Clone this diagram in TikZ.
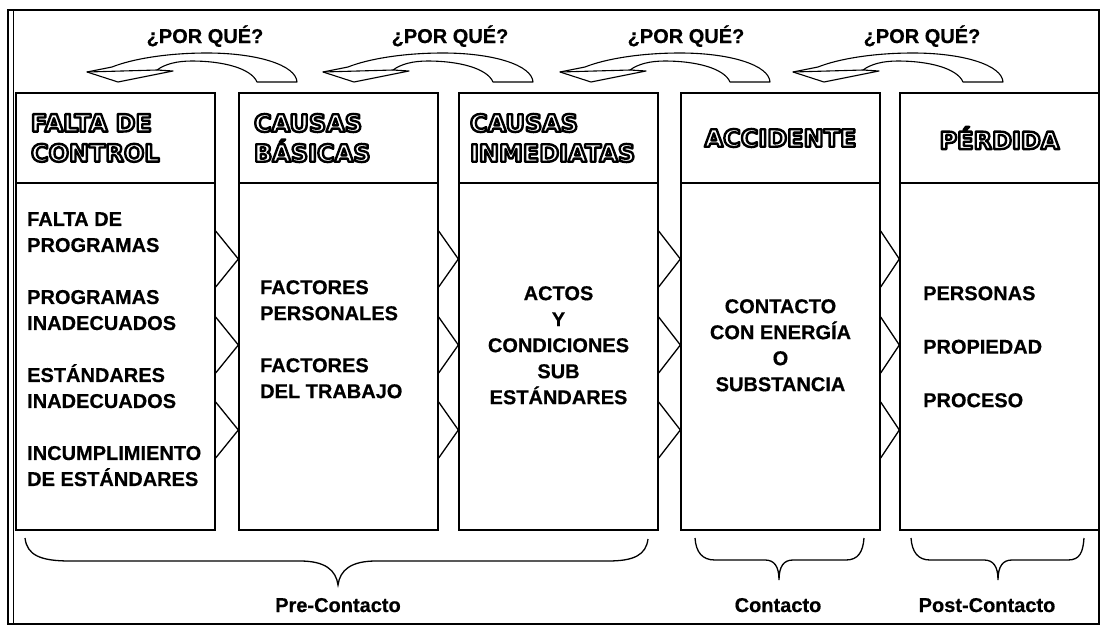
\documentclass[tikz,border=0pt]{standalone}
\usepackage{fontspec}
\setmainfont{Liberation Sans}[BoldFeatures={FakeBold=0.5}]
\newfontfamily\hdrfont{DejaVu Sans}
\usetikzlibrary{calc, positioning}
% white letters with a black rim
\newcommand{\hollow}[1]{{\color{white}\special{pdf:literal direct 2 Tr 2.4 w 0 G 1 j}#1\special{pdf:literal direct 0 Tr}}}
\tikzset{
  box/.style={draw, line width=1.3pt, minimum width=199pt, inner sep=0pt},
  hdr/.style={box, minimum height=90pt, text width=169pt, inner xsep=15pt, font=\hdrfont\bfseries\fontsize{24}{30}\selectfont},
  body/.style={box, minimum height=347pt},
  txt/.style={font=\bfseries\fontsize{20}{26}\selectfont, inner sep=0pt},
  why/.style={font=\bfseries\fontsize{20}{24}\selectfont, inner sep=0pt, anchor=base},
  whyarrow/.pic={
    \draw[fill=white, line width=1.1pt, line join=round] (90,29) .. controls (89,12) and (50,0) .. (0,0) .. controls (-40,0) and (-75,6) .. (-95,14) -- (-120,19) -- (-89,29) -- (-34,18) -- (-50,17) .. controls (-42,11) and (-30,8) .. (-15,8) .. controls (15,8) and (44,15) .. (50,29) -- cycle;
    \draw[line width=1.1pt] (-120,19) -- (-50,17);
  }
}
\begin{document}
\begin{tikzpicture}[x=1pt, y=-1pt]
\useasboundingbox (0,0) rectangle (1106,627);
\fill[white] (0,0) rectangle (1106,627);
% frame
\draw[line width=1.8pt] (8,10) rectangle (1099,624);
\draw[line width=1pt] (13,10) -- (13,624);

% why arrows
\pic at (207,53) {whyarrow};
\pic at (443,53) {whyarrow};
\pic at (680,53) {whyarrow};
\pic at (913,53) {whyarrow};
\node[why] (q1) at (205,43) {¿POR QUÉ?};
\node[why] (q2) at (450,43) {¿POR QUÉ?};
\node[why] (q3) at (686,43) {¿POR QUÉ?};
\node[why] (q4) at (922,43) {¿POR QUÉ?};

% headers
\node[hdr, align=left] (h1) at (115.5,138) {\hollow{FALTA DE}\\\hollow{CONTROL}};
\node[hdr, align=left] (h2) at (338.5,138) {\hollow{CAUSAS}\\\hollow{BÁSICAS}};
\node[hdr, align=left, inner xsep=11pt, text width=177pt] (h3) at (558.5,138) {\hollow{CAUSAS}\\\hollow{INMEDIATAS}};
\node[hdr, align=center] (h4) at (780.5,138) {\hollow{ACCIDENTE}};
\node[hdr, align=center] (h5) at (999.5,138) {\hollow{PÉRDIDA}};

% bodies
\node[body] (b1) at (115.5,356.5) {};
\node[body] (b2) at (338.5,356.5) {};
\node[body] (b3) at (558.5,356.5) {};
\node[body] (b4) at (780.5,356.5) {};
\node[body] (b5) at (999.5,356.5) {};

\node[txt, align=left, anchor=north west] (t1) at (27,212) {FALTA DE\\PROGRAMAS\\[26pt]PROGRAMAS\\INADECUADOS\\[26pt]ESTÁNDARES\\INADECUADOS\\[26pt]INCUMPLIMIENTO\\DE ESTÁNDARES};
\node[txt, align=left, anchor=north west] (t2) at (260,280) {FACTORES\\PERSONALES\\[26pt]FACTORES\\DEL TRABAJO};
\node[txt, align=center, anchor=north] (t3) at (558.5,286) {ACTOS\\Y\\CONDICIONES\\SUB\\ESTÁNDARES};
\node[txt, align=center, anchor=north] (t4) at (780.5,299) {CONTACTO\\CON ENERGÍA\\O\\SUBSTANCIA};
\node[txt, align=left, anchor=north west] (t5) at (923,286) {PERSONAS\\[27.5pt]PROPIEDAD\\[27.5pt]PROCESO};

% notches between the boxes
\foreach \k/\c in {1/259, 2/345, 3/430} {
  \coordinate (u\k) at (0,\c-28);
  \coordinate (m\k) at (0,\c);
  \coordinate (d\k) at (0,\c+28);
}
\foreach \a/\b in {b1/b2, b2/b3, b3/b4, b4/b5}
  \foreach \k in {1,2,3}
    \draw[line width=1.3pt] (\a.east |- u\k) -- (\b.west |- m\k) -- (\a.east |- d\k);

% braces
\draw[line width=1.3pt] (25,538) .. controls (27,555) and (40,561) .. (70,561) -- (300,561) .. controls (325,561) and (336,570) .. (338,585) .. controls (340,570) and (351,561) .. (376,561) -- (608,561) .. controls (634,561) and (646,555) .. (648,539);
\draw[line width=1.3pt] (695,538) .. controls (696,552) and (702,560) .. (715,560) -- (765,560) .. controls (774,560) and (779,566) .. (779,580) .. controls (779,566) and (784,560) .. (793,560) -- (846,560) .. controls (858,560) and (863,552) .. (864,538);
\draw[line width=1.3pt] (911,538) .. controls (912,552) and (918,560) .. (930,560) -- (984,560) .. controls (993,560) and (998,566) .. (998,580) .. controls (998,566) and (1003,560) .. (1012,560) -- (1068,560) .. controls (1080,560) and (1083,552) .. (1084,538);

\node[why] (n1) at (338,612) {Pre-Contacto};
\node[why] (n2) at (778,612) {Contacto};
\node[why] (n3) at (987,612) {Post-Contacto};
\end{tikzpicture}
\end{document}
